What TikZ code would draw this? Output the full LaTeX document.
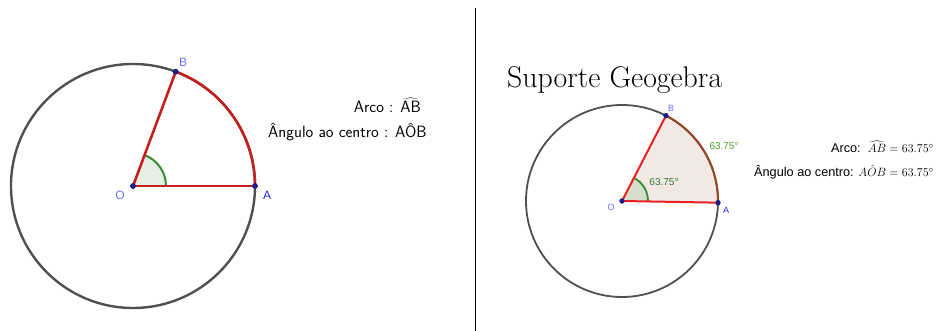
\documentclass[tikz,border=0pt]{standalone}
\usepackage{fontspec}
\usetikzlibrary{calc}
\newfontfamily\gfont{Liberation Sans}
\definecolor{circgray}{RGB}{80,80,80}
\definecolor{segred}{RGB}{196,32,32}
\definecolor{brightred}{RGB}{232,32,32}
\definecolor{arcbrown}{RGB}{150,72,36}
\definecolor{sectfill}{RGB}{243,233,228}
\definecolor{angfillL}{RGB}{228,240,228}
\definecolor{angfillR}{RGB}{214,222,206}
\definecolor{anggreen}{RGB}{56,140,56}
\definecolor{valgreen}{RGB}{80,160,40}
\definecolor{ptblue}{RGB}{30,30,150}
\definecolor{lblue}{RGB}{110,110,255}
\definecolor{dblue}{RGB}{40,40,210}
\tikzset{
  circ/.style={draw=circgray},
  pt/.style={circle,fill=ptblue,draw=ptblue!70!black,inner sep=0pt,minimum size=5pt},
  lbl/.style={font=\gfont\fontsize{12}{14}\selectfont,inner sep=0pt},
  lbls/.style={font=\gfont\fontsize{9}{11}\selectfont,inner sep=0pt},
  ltext/.style={inner sep=0pt,font=\sffamily\fontsize{16.4}{19}\selectfont},
  rtext/.style={anchor=east,inner sep=0pt,font=\gfont\fontsize{12.7}{15}\selectfont},
}
\begin{document}
\begin{tikzpicture}[x=1pt,y=1pt]
\useasboundingbox (0,0) rectangle (941,331);
% ---------- left figure
\coordinate (O1) at (133,145);
\draw[circ,line width=2.4pt] (O1) circle[radius=122];
\fill[angfillL] (O1) -- ++(0:33) arc[start angle=0,end angle=69.5,radius=33] -- cycle;
\draw[anggreen,line width=2pt] (O1) ++(0:33) arc[start angle=0,end angle=69.5,radius=33];
\draw[segred,line width=2.6pt] (O1) ++(0:122) arc[start angle=0,end angle=69.5,radius=122];
\node[pt] (A1) at ($(O1)+(0:122)$) {};
\node[pt] (B1) at ($(O1)+(69.5:122)$) {};
\node[pt] (P1) at (O1) {};
\draw[segred,line width=2.6pt] (P1.center) -- (A1.center);
\draw[segred,line width=2.6pt] (P1.center) -- (B1.center);
\node[pt] at (A1) {};
\node[pt] at (B1) {};
\node[pt] at (P1) {};
\node[lbl,text=lblue] (LB1) at (183,269) {B};
\node[lbl,text=lblue] (LO1) at (120,136) {O};
\node[lbl,text=dblue] (LA1) at (267,136) {A};
\node[ltext,anchor=east] (t1) at (421,226) {Arco : $\widehat{\mathsf{AB}}$};
\node[ltext,anchor=west] (t2) at (268,199) {Ângulo ao centro : AÔB};
% ---------- divider
\coordinate (d1) at (475,323);
\coordinate (d2) at (475,0);
\draw[line width=1pt] (d1) -- (d2);
% ---------- right figure
\node[anchor=base west,inner sep=0pt,font=\fontsize{29.8}{34}\selectfont] (title) at (507,243) {Suporte Geogebra};
\coordinate (O2) at (622,130);
\fill[sectfill] (O2) -- ++(-1:96) arc[start angle=-1,end angle=62.75,radius=96] -- cycle;
\draw[circ,line width=1.8pt] (O2) circle[radius=96];
\fill[angfillR] (O2) -- ++(-1:26) arc[start angle=-1,end angle=62.75,radius=26] -- cycle;
\draw[anggreen,line width=1.8pt] (O2) ++(-1:26) arc[start angle=-1,end angle=62.75,radius=26];
\draw[arcbrown,line width=2pt] (O2) ++(-1:96) arc[start angle=-1,end angle=62.75,radius=96];
\node[pt,minimum size=4.5pt] (A2) at ($(O2)+(-1:96)$) {};
\node[pt,minimum size=4.5pt] (B2) at ($(O2)+(62.75:96)$) {};
\node[pt,minimum size=4.5pt] (P2) at (O2) {};
\draw[brightred,line width=2pt] (P2.center) -- (A2.center);
\draw[brightred,line width=2pt] (P2.center) -- (B2.center);
\node[pt,minimum size=4.5pt] at (A2) {};
\node[pt,minimum size=4.5pt] at (B2) {};
\node[pt,minimum size=4.5pt] at (P2) {};
\node[lbls,text=lblue] (LB2) at (671,223) {B};
\node[lbls,text=lblue] (LO2) at (611,124) {O};
\node[lbls,text=dblue] (LA2) at (726,121) {A};
\node[lbls,text=valgreen,font=\gfont\fontsize{10}{12}\selectfont] (v1) at (724,185) {63.75°};
\node[lbls,text=anggreen!85!black,font=\gfont\fontsize{10}{12}\selectfont] (v2) at (664,149) {63.75°};
\node[rtext] (t3) at (934,184) {Arco:\ \ $\widehat{AB}=63.75^\circ$};
\node[rtext] (t4) at (934,159) {Ângulo ao centro: $A\hat{O}B=63.75^\circ$};
\end{tikzpicture}
\end{document}
